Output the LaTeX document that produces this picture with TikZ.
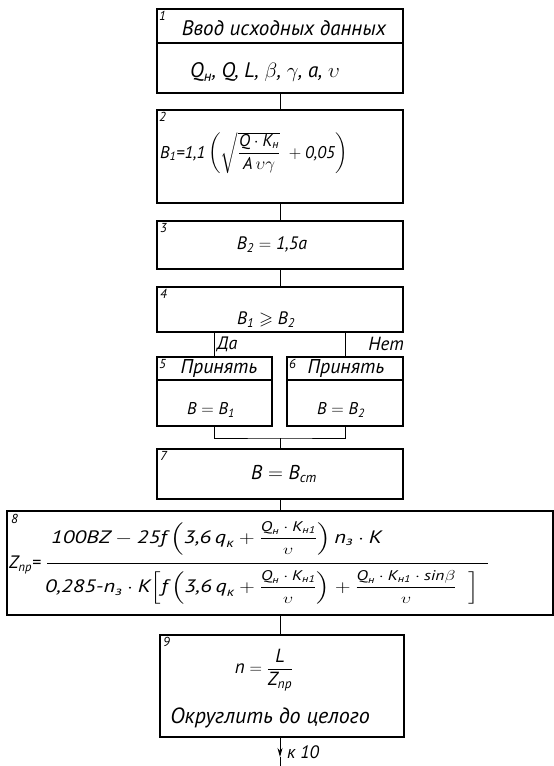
\documentclass[tikz,border=0pt]{standalone}
\usepackage{amsmath,amssymb}
\usepackage{graphicx}
\usepackage{fontspec}
\setmainfont{PT Sans}
\usetikzlibrary{arrows.meta}
\newcommand\fx[1]{\text{#1}}
\newcommand\fsz[1]{\fontsize{#1}{#1}\selectfont}
\newcommand\Qn{\fx{Q}_{\fx{н}}}
\newcommand\Kn{\fx{K}_{\fx{н1}}}
\newcommand\sfr[2]{\dfrac{\text{\fsz{14}$#1$}}{\text{\fsz{14}$#2$}}}
\begin{document}
\begin{tikzpicture}[x=1pt,y=-1pt,
  box/.style={draw, line width=1.2pt, inner sep=0pt},
  divline/.style={line width=1.1pt},
  conn/.style={line width=0.9pt},
  num/.style={anchor=north west, inner sep=0pt, font=\itshape\fsz{13}},
  txt/.style={inner sep=0pt, font=\itshape\fsz{#1}},
  txt/.default=16]
\useasboundingbox (0,0) rectangle (554,766);
\fill[white] (0,0) rectangle (554,766);
% block 1
\node[box, minimum width=246, minimum height=84] (b1) at (280,51) {};
\draw[divline] (157,43) -- (403,43);
\node[num] (n1) at (159,11) {1};
\node[txt=21] (t1) at (284,28) {Ввод исходных данных};
\node[txt=21] (t1b) at (265,72) {$\Qn\fx{, Q, L, }\beta\fx{, }\gamma\fx{, a, }\upsilon$};
% block 2
\node[box, minimum width=246, minimum height=93] (b2) at (280,156.5) {};
\node[num] (n2) at (159,112) {2};
\node[txt=17, anchor=west] (t2) at (160,153) {$\fx{B}_{\fx{1}}\fx{=1,1}\left(\sqrt{\dfrac{\fx{Q}\cdot\fx{K}_{\fx{н}}}{\fx{A}\,\upsilon\gamma}}\;+\fx{0,05}\right)$};
% block 3
\node[box, minimum width=246, minimum height=48] (b3) at (280,245) {};
\node[num] (n3) at (160,223) {3};
\node[txt=18] (t3) at (272,245) {$\fx{B}_{\fx{2}}=\fx{1,5a}$};
% block 4
\node[box, minimum width=246, minimum height=45] (b4) at (280,309.5) {};
\node[num] (n4) at (160,289) {4};
\node[txt=18] (t4) at (266,320) {$\fx{B}_{\fx{1}}\geqslant\fx{B}_{\fx{2}}$};
% block 5
\node[box, minimum width=115, minimum height=69] (b5) at (214.5,391.5) {};
\draw[divline] (157,380) -- (272,380);
\node[num] (n5) at (159,359) {5};
\node[txt=20] (t5a) at (219,368) {Принять};
\node[txt=17] (t5b) at (211,410) {$\fx{B}=\fx{B}_{\fx{1}}$};
% block 6
\node[box, minimum width=116, minimum height=69] (b6) at (345,391.5) {};
\draw[divline] (287,380) -- (403,380);
\node[num] (n6) at (289,359) {6};
\node[txt=20] (t6a) at (346,368) {Принять};
\node[txt=17] (t6b) at (341,410) {$\fx{B}=\fx{B}_{\fx{2}}$};
% block 7
\node[box, minimum width=246, minimum height=50] (b7) at (280,474) {};
\node[num] (n7) at (160,451) {7};
\node[txt=20] (t7) at (284,474) {$\fx{B}=\fx{B}_{\fx{ст}}$};
% block 8
\node[box, minimum width=546, minimum height=104] (b8) at (280,563) {};
\node[num] (n8) at (11,514) {8};
\node[txt=18, anchor=west] (z) at (9,565) {$\fx{Z}_{\fx{пр}}\fx{=}$};
\draw[conn] (47,563) -- (488,563);
\node[txt=18, anchor=base west] (fnum) at (51,543) {\scalebox{1.25}[1]{$\fx{100BZ}-\fx{25f}\left(\fx{3,6}\,\fx{q}_{\fx{к}}+\sfr{\Qn\cdot\Kn}{\upsilon}\right)\fx{n}_{\fx{з}}\cdot\fx{K}$}};
\node[txt=18, anchor=base west] (fden) at (45,592) {\scalebox{1.24}[1]{$\fx{0,285-n}_{\fx{з}}\cdot\fx{K}\Bigl[\fx{f}\left(\fx{3,6}\,\fx{q}_{\fx{к}}+\sfr{\Qn\cdot\Kn}{\upsilon}\right)+\sfr{\Qn\cdot\Kn\cdot\fx{sin}\beta}{\upsilon}\;\;\Bigr]$}};
% block 9
\node[box, minimum width=244, minimum height=102] (b9) at (282,686) {};
\node[num] (n9) at (163,637) {9};
\node[txt=19] (t9a) at (264,670) {$\fx{n}=\dfrac{\fx{L}}{\fx{Z}_{\fx{пр}}}$};
\node[txt=22] (t9b) at (270,718) {Округлить до целого};
% connectors
\draw[conn] (b1.south) -- (b2.north);
\draw[conn] (b2.south) -- (b3.north);
\draw[conn] (b3.south) -- (b4.north);
\draw[conn] (b4.south -| b5.north) -- (b5.north);
\draw[conn] (b4.south -| b6.north) -- (b6.north);
\node[txt=18, anchor=west] (yes) at (217,344) {Да};
\node[txt=19, anchor=east] (no) at (404,344) {Нет};
\coordinate (j) at (280,438);
\draw[conn] (b5.south) |- (j) -| (b6.south);
\draw[conn] (j) -- (b7.north);
\draw[conn] (b7.south) -- (b8.north);
\draw[conn] (b8.south) -- (b8.south |- b9.north);
\coordinate (ah) at (280,757);
\coordinate (e) at (280,766);
\draw[conn,-{Stealth[length=9pt,width=5pt]}] (b9.south -| ah) -- (ah);
\draw[conn] (ah) -- (e);
\node[txt=18, anchor=west] (k10) at (287,752) {к 10};
\end{tikzpicture}
\end{document}
